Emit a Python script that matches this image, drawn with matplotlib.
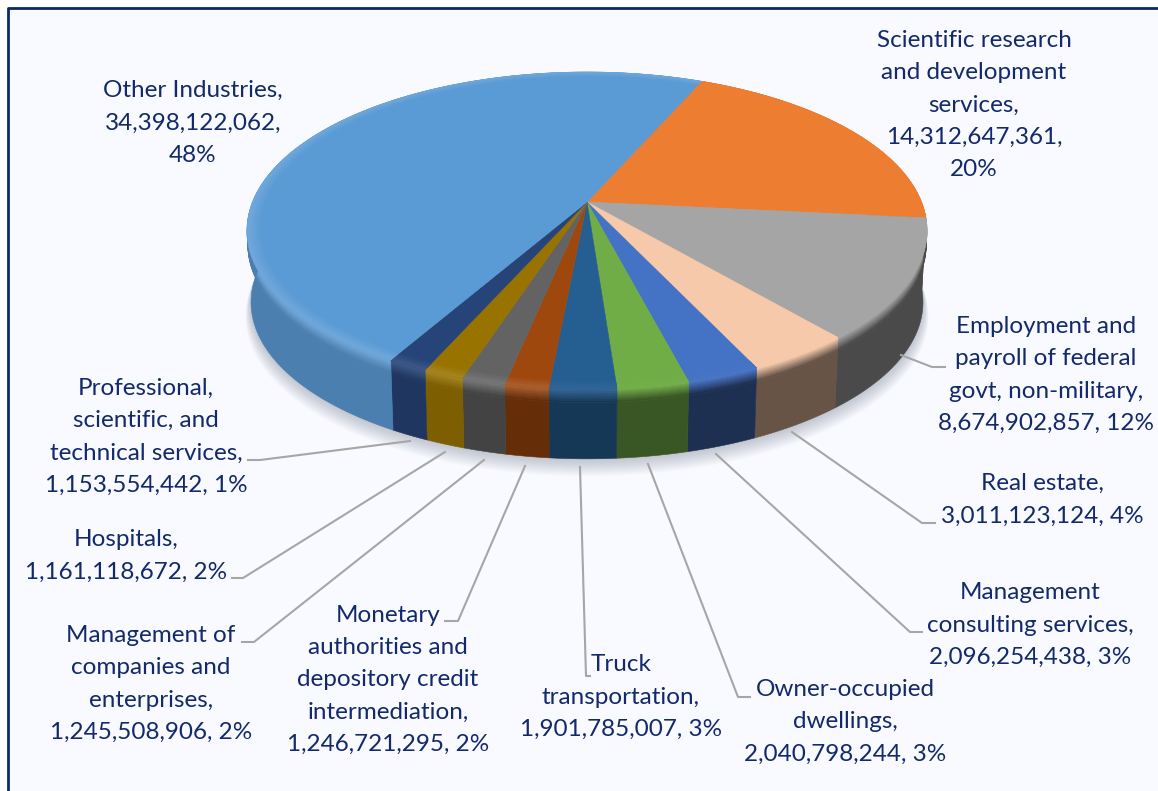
import matplotlib
matplotlib.use('Agg')
import matplotlib.pyplot as plt
import matplotlib.colors as mcolors
import numpy as np

# slices, clockwise from the orange one
industries = ['Scientific research\nand development\nservices,', 'Employment and\npayroll of federal\ngovt, non-military,',
              'Real estate,', 'Management\nconsulting services,', 'Owner-occupied\ndwellings,', 'Truck\ntransportation,',
              'Monetary\nauthorities and\ndepository credit\nintermediation,', 'Management of\ncompanies and\nenterprises,',
              'Hospitals,', 'Professional,\nscientific, and\ntechnical services,', 'Other Industries,']
values = [14312647361, 8674902857, 3011123124, 2096254438, 2040798244, 1901785007,
          1246721295, 1245508906, 1161118672, 1153554442, 34398122062]
percents = ['20%', '12%', '4%', '3%', '3%', '3%', '2%', '2%', '2%', '1%', '48%']
value_breaks = ['\n', ' ', ' ', ' ', ' ', ' ', ' ', ' ', ' ', ' ', '\n']

colors = ['#ed7d31', '#a5a5a5', '#f5c9aa', '#4472c4', '#70ad47', '#255e91',
          '#9e480e', '#636363', '#997300', '#264478', '#5b9bd5']
wall_shade = [0.6, 0.45, 0.42, 0.42, 0.5, 0.6, 0.64, 0.68, 0.82, 0.8, 0.82]
rim_lift = [0, 0, 0, 0.02, 0.02, 0.05, 0.12, 0.12, 0.12, 0.1, 0.12]

# label centres in pixels
label_x = [974, 1046, 1042, 1030, 845, 621, 388, 151, 126, 146, 193]
label_y = [105, 375, 500, 625, 722, 697, 680, 684, 556, 437, 123]

leaders = [None,
           [(901, 355), (932, 367), (945, 367)],
           [(792, 432), (922, 523), (935, 523)],
           [(716, 454), (910, 632), (922, 632)],
           [(648, 464), (738, 697), (750, 697)],
           [(580, 467), (586, 676), (590, 676)],
           [(525, 466), (458, 621), (445, 621)],
           [(484, 460), (254, 642), (242, 642)],
           [(445, 452), (243, 578), (232, 578)],
           [(410, 441), (260, 460), (248, 460)],
           None]

text_color = '#12296b'
bg_color = '#f9faff'
border_color = '#0b2a6b'

# pie geometry, apex in pixels and perspective factor
cx, cy = 587, 202
a, b, k = 334.5, 153.4, 0.18
depth = 72
start = np.deg2rad(66.5)


def project(t, r=1.0, z=0.0):
    w = 1 + k * r * np.sin(t)
    s = 1 - 0.012 * z / depth
    return cx + s * a * r * np.cos(t) / w, cy - s * b * r * np.sin(t) / w + z


def mix(c1, c2, f):
    return tuple(np.array(mcolors.to_rgb(c1)) * (1 - f) + np.array(mcolors.to_rgb(c2)) * f)


def shaded(c, s):
    return tuple(np.array(mcolors.to_rgb(c)) * s)


def lift(c, f):
    return mix(c, 'white', f)


fig = plt.figure(figsize=(11.58, 7.91), dpi=100, facecolor='white')
ax = fig.add_axes([0, 0, 1, 1])
ax.set_xlim(0, 1158)
ax.set_ylim(791, 0)
ax.axis('off')

ax.fill([7, 1158, 1158, 7], [7, 7, 791, 791], color=bg_color, lw=0)
ax.plot([7.5, 7.5, 1158], [791, 7.5, 7.5], color=border_color, lw=2)

fractions = np.array(values) / np.sum(values)
edges = start - 2 * np.pi * np.concatenate([[0], np.cumsum(fractions)])

# soft shadow under the pie
tt = np.linspace(0, 2 * np.pi, 300)
for i in range(10):
    x, y = project(tt, 1.0 + 0.002 * i, depth + 1.5 * i)
    ax.fill(x, y, color='#44506a', alpha=0.035, lw=0)

# walls, light rim at the top going into the dark wall
for i, c in enumerate(colors):
    t = np.linspace(edges[i], edges[i + 1], 120)
    wall = shaded(c, wall_shade[i])
    rim = lift(c, rim_lift[i])
    levels = np.concatenate([np.linspace(0, 14, 8), [depth]])
    for j in range(len(levels) - 1):
        x1, y1 = project(t, 1.0, levels[j])
        x2, y2 = project(t, 1.0, levels[j + 1])
        col = mix(rim, wall, min(1, j / 6))
        ax.fill(np.r_[x1, x2[::-1]], np.r_[y1, y2[::-1]], color=col, lw=0.4)

# top face
for i, c in enumerate(colors):
    t = np.linspace(edges[i], edges[i + 1], 120)
    x, y = project(t)
    ax.fill(np.r_[cx, x], np.r_[cy, y], color=c, lw=0.4)
    rim = lift(c, rim_lift[i])
    radii = np.linspace(0.965, 1.0, 5)
    for j in range(4):
        x1, y1 = project(t, radii[j])
        x2, y2 = project(t, radii[j + 1])
        ax.fill(np.r_[x1, x2[::-1]], np.r_[y1, y2[::-1]], color=mix(c, rim, (j + 1) / 4), lw=0.3)

# leader lines
for pts in leaders:
    if pts is not None:
        ax.plot([p[0] for p in pts], [p[1] for p in pts], color='#a6a6a6', lw=1.5)

# data labels
for i, name in enumerate(industries):
    label = name + '\n' + format(values[i], ',') + ',' + value_breaks[i] + percents[i]
    ax.text(label_x[i], label_y[i], label, ha='center', va='center', family='Lato',
            fontsize=17.5, color=text_color, linespacing=1.67)

fig.savefig('out.png', dpi=100)
